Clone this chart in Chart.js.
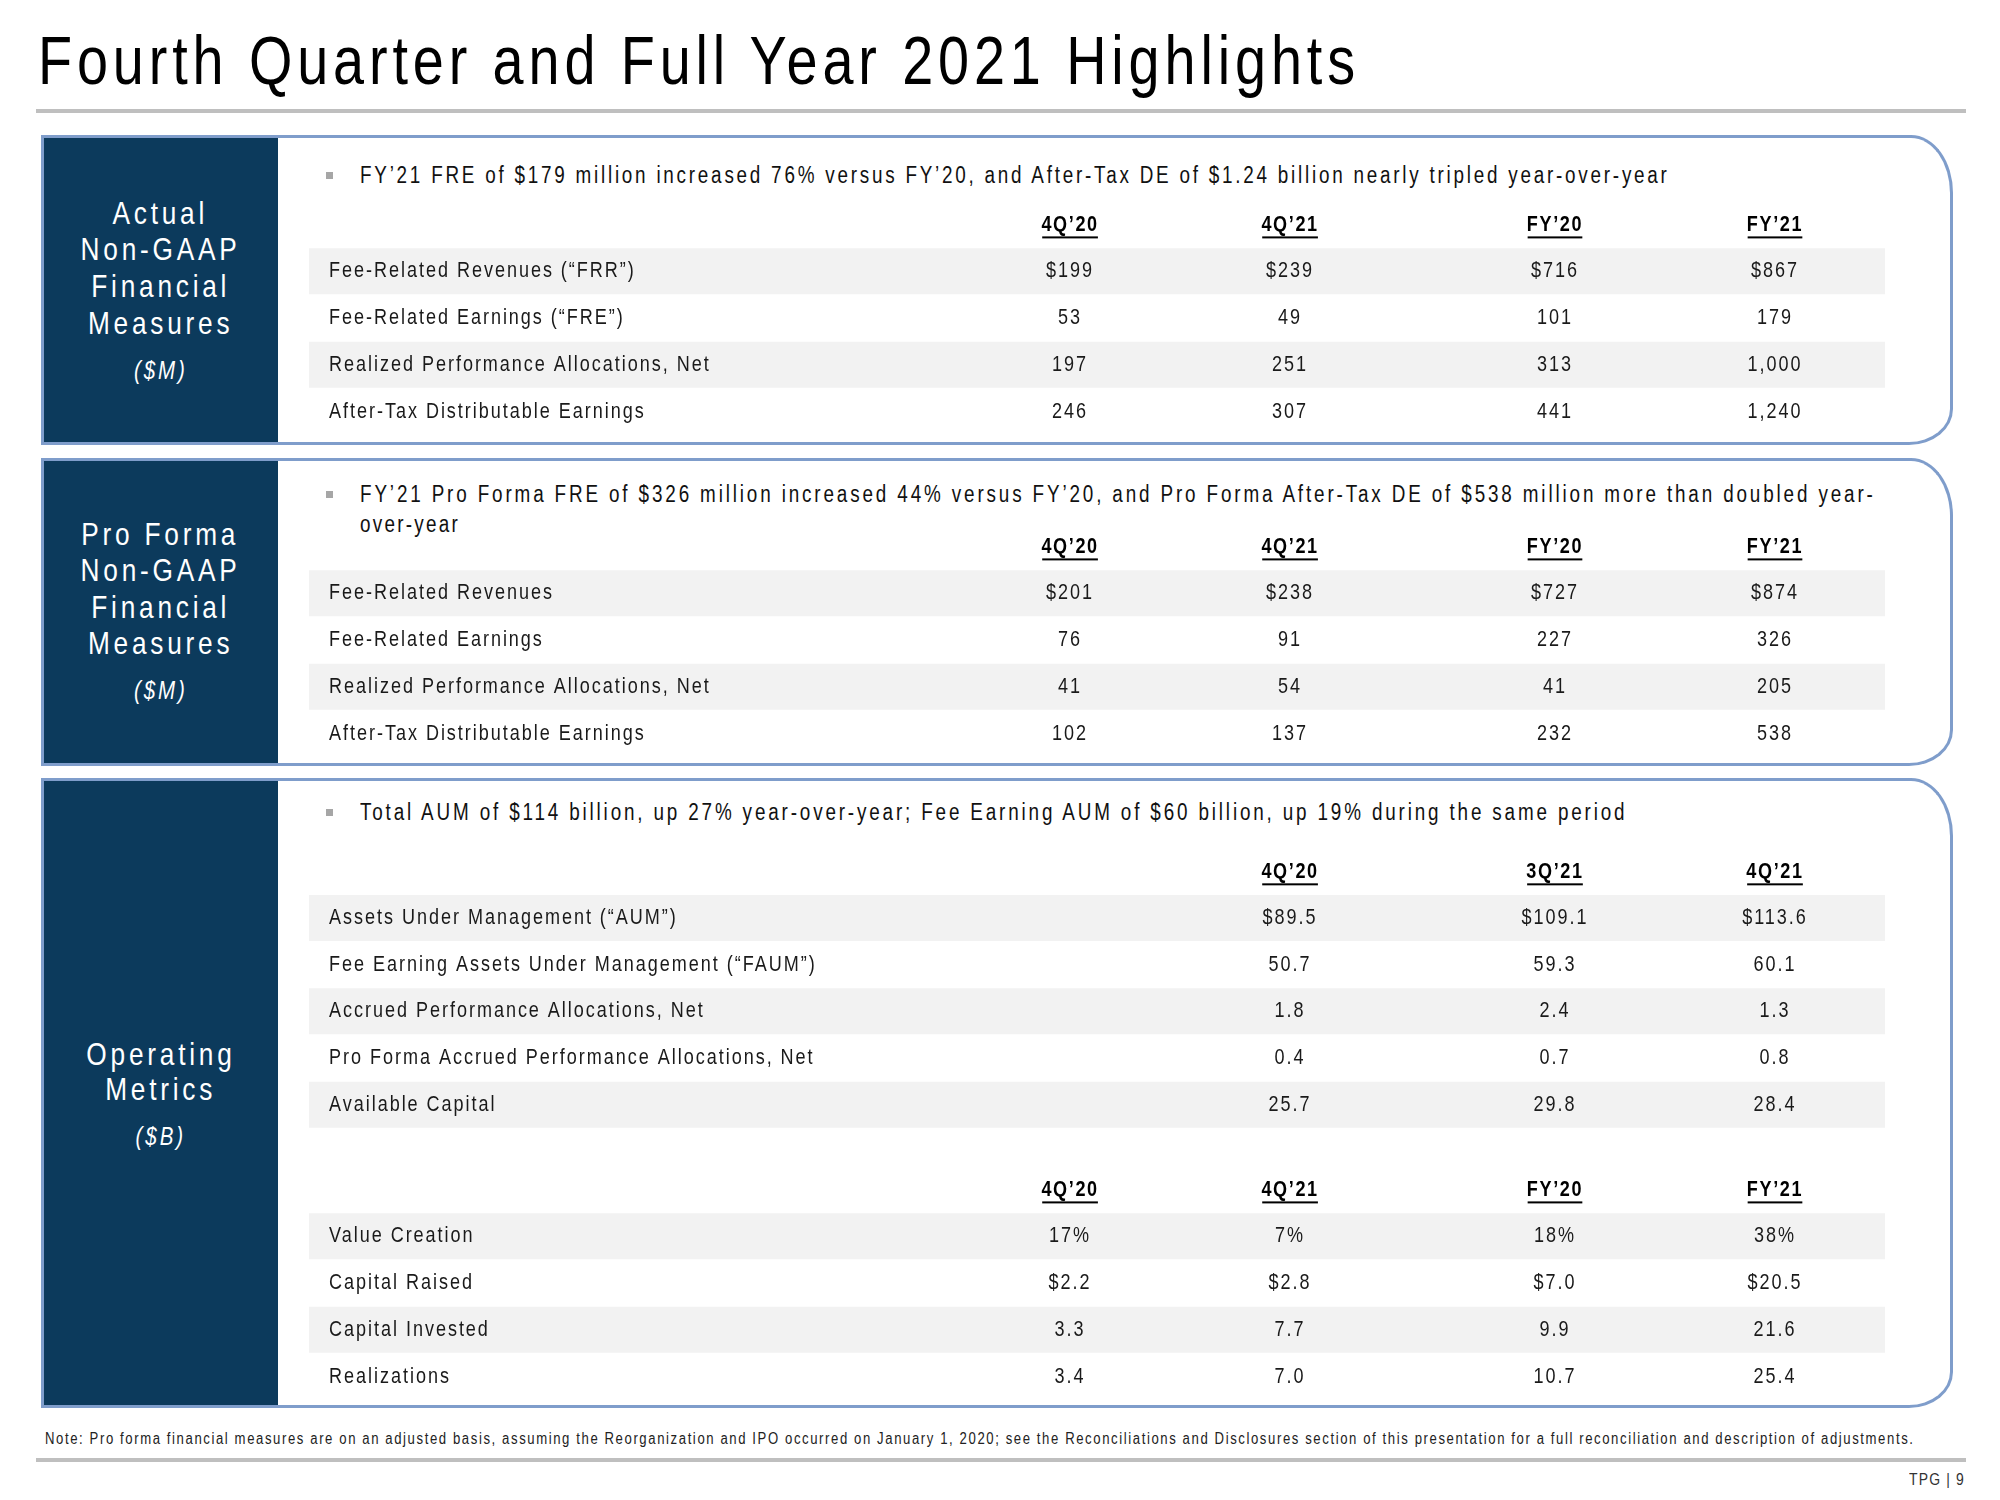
<!DOCTYPE html>
<html>
<head>
<meta charset="utf-8">
<script src="https://cdn.jsdelivr.net/npm/chart.js"></script>
<style>
  html, body { margin: 0; padding: 0; background: #fff; }
  #slide { position: relative; width: 2000px; height: 1500px; overflow: hidden;
    font-family: "Liberation Sans", Arial, sans-serif; color: #1a1a1a; }
  .abs { position: absolute; white-space: nowrap; }
  /* no narrow face is installed, so text is condensed by scaling */
  .cond { transform: scaleX(0.82); transform-origin: left center; }
  #title { left: 38px; top: 26px; font-size: 68px; line-height: 68px; color: #000; }
  .rule { position: absolute; left: 36px; width: 1930px; height: 4px; background: #bfbfbf; }
  .side { position: absolute; left: 41px; width: 240px; background: #0c3a5c; border: 3px solid #7f9dcb; box-sizing: border-box; }
  .box { position: absolute; left: 278px; width: 1675px; background: #fff; border: 3px solid #7f9dcb; border-left: none;
    box-sizing: border-box; border-top-right-radius: 42px 58px; border-bottom-right-radius: 44px 36px; }
  .sidetxt { position: absolute; left: 42px; width: 237px; text-align: center; color: #fff; font-size: 32px; line-height: 36px; }
  .sidetxt span { display: inline-block; transform: scaleX(0.82); transform-origin: center; letter-spacing: 4.6px; white-space: nowrap; }
  .sidetxt.unit { font-size: 25px; font-style: italic; }
  .sidetxt.unit span { letter-spacing: 3.6px; }
  .bullet { position: absolute; left: 326px; width: 7px; height: 7px; background: #a6a6a6; }
  .btext { font-size: 23px; line-height: 30px; color: #111; }
  canvas.tbl { position: absolute; left: 309px; }
  #note { left: 45px; top: 1429px; font-size: 16px; line-height: 20px; color: #222; }
  #page { left: 1909px; top: 1469px; font-size: 17px; line-height: 22px; color: #333; }
</style>
</head>
<body>
<div id="slide">
  <div id="title" class="abs cond">Fourth Quarter and Full Year 2021 Highlights</div>
  <div class="rule" style="top:109px"></div>

  <div class="side" style="top:135px;height:310px"></div>
  <div class="box" style="top:135px;height:310px"></div>
  <div class="side" style="top:458px;height:308px"></div>
  <div class="box" style="top:458px;height:308px"></div>
  <div class="side" style="top:778px;height:630px"></div>
  <div class="box" style="top:778px;height:630px"></div>

  <div class="sidetxt" style="top:195px"><span>Actual</span></div>
  <div class="sidetxt" style="top:231px"><span>Non-GAAP</span></div>
  <div class="sidetxt" style="top:268px"><span>Financial</span></div>
  <div class="sidetxt" style="top:305px"><span>Measures</span></div>
  <div class="sidetxt unit" style="top:352px"><span>($M)</span></div>

  <div class="sidetxt" style="top:516px"><span>Pro Forma</span></div>
  <div class="sidetxt" style="top:552px"><span>Non-GAAP</span></div>
  <div class="sidetxt" style="top:589px"><span>Financial</span></div>
  <div class="sidetxt" style="top:625px"><span>Measures</span></div>
  <div class="sidetxt unit" style="top:672px"><span>($M)</span></div>

  <div class="sidetxt" style="top:1036px"><span>Operating</span></div>
  <div class="sidetxt" style="top:1071px"><span>Metrics</span></div>
  <div class="sidetxt unit" style="top:1118px"><span>($B)</span></div>

  <div class="bullet" style="top:172px"></div>
  <div id="b1" class="abs btext cond" style="left:360px;top:160px">FY’21 FRE of $179 million increased 76% versus FY’20, and After-Tax DE of $1.24 billion nearly tripled year-over-year</div>
  <div class="bullet" style="top:491px"></div>
  <div id="b2" class="abs btext cond" style="left:360px;top:479px">FY’21 Pro Forma FRE of $326 million increased 44% versus FY’20, and Pro Forma After-Tax DE of $538 million more than doubled year-</div>
  <div id="b2b" class="abs btext cond" style="left:360px;top:509px">over-year</div>
  <div class="bullet" style="top:809px"></div>
  <div id="b3" class="abs btext cond" style="left:360px;top:797px">Total AUM of $114 billion, up 27% year-over-year; Fee Earning AUM of $60 billion, up 19% during the same period</div>

  <canvas id="tActual" class="tbl"></canvas>
  <canvas id="tProForma" class="tbl"></canvas>
  <canvas id="tAum" class="tbl"></canvas>
  <canvas id="tActivity" class="tbl"></canvas>

  <div id="note" class="abs cond">Note: Pro forma financial measures are on an adjusted basis, assuming the Reorganization and IPO occurred on January 1, 2020; see the Reconciliations and Disclosures section of this presentation for a full reconciliation and description of adjustments.</div>
  <div class="rule" style="top:1458px"></div>
  <div id="page" class="abs cond">TPG | 9</div>
</div>

<script>
// ---- data ----
const fourPeriods = ["4Q’20", "4Q’21", "FY’20", "FY’21"];
const aumPeriods = ["4Q’20", "3Q’21", "4Q’21"];

const actualLabels = [
  "Fee-Related Revenues (“FRR”)",
  "Fee-Related Earnings (“FRE”)",
  "Realized Performance Allocations, Net",
  "After-Tax Distributable Earnings"
];
const actual4Q20 = [199, 53, 197, 246];
const actual4Q21 = [239, 49, 251, 307];
const actualFY20 = [716, 101, 313, 441];
const actualFY21 = [867, 179, 1000, 1240];
const actualFormats = ["usd0", "num0", "num0", "num0"];

const proFormaLabels = [
  "Fee-Related Revenues",
  "Fee-Related Earnings",
  "Realized Performance Allocations, Net",
  "After-Tax Distributable Earnings"
];
const proForma4Q20 = [201, 76, 41, 102];
const proForma4Q21 = [238, 91, 54, 137];
const proFormaFY20 = [727, 227, 41, 232];
const proFormaFY21 = [874, 326, 205, 538];
const proFormaFormats = ["usd0", "num0", "num0", "num0"];

const aumLabels = [
  "Assets Under Management (“AUM”)",
  "Fee Earning Assets Under Management (“FAUM”)",
  "Accrued Performance Allocations, Net",
  "Pro Forma Accrued Performance Allocations, Net",
  "Available Capital"
];
const aum4Q20 = [89.5, 50.7, 1.8, 0.4, 25.7];
const aum3Q21 = [109.1, 59.3, 2.4, 0.7, 29.8];
const aum4Q21 = [113.6, 60.1, 1.3, 0.8, 28.4];
const aumFormats = ["usd1", "num1", "num1", "num1", "num1"];

const activityLabels = ["Value Creation", "Capital Raised", "Capital Invested", "Realizations"];
const activity4Q20 = [17, 2.2, 3.3, 3.4];
const activity4Q21 = [7, 2.8, 7.7, 7.0];
const activityFY20 = [18, 7.0, 9.9, 10.7];
const activityFY21 = [38, 20.5, 21.6, 25.4];
const activityFormats = ["pct", "usd1", "num1", "num1"];

// ---- layout ----
const FONT = '"Liberation Sans", Arial, sans-serif';
const SX = 0.82;          // horizontal squeeze to mimic a narrow face
const ROW_H = 46.7;
const TABLE_W = 1576;
// column anchors on a 0-100 axis: label column, then four value columns
const COL_X = [1.27, 48.29, 62.25, 79.06, 93.02];

function fmt(v, f) {
  if (f === "usd0") return "$" + v.toLocaleString("en-US");
  if (f === "num0") return v.toLocaleString("en-US");
  if (f === "usd1") return "$" + v.toFixed(1);
  if (f === "num1") return v.toFixed(1);
  if (f === "pct") return v + "%";
  return String(v);
}

const cellText = {
  id: "cellText",
  afterDatasetsDraw(chart) {
    const ctx = chart.ctx;
    chart.data.datasets.forEach((ds, i) => {
      if (!ds.cells) return;
      const meta = chart.getDatasetMeta(i);
      meta.data.forEach((pt, j) => {
        const txt = ds.cells[j];
        if (!txt) return;
        const head = j === 0;
        ctx.save();
        ctx.translate(pt.x, pt.y + (head ? 1 : 0));
        ctx.scale(SX, 1);
        ctx.font = (head ? "bold 22px " : "22px ") + FONT;
        ctx.letterSpacing = head ? "2px" : "2.4px";
        ctx.fillStyle = head ? "#000" : "#1a1a1a";
        ctx.textAlign = ds.align;
        ctx.textBaseline = "middle";
        ctx.fillText(txt, 0, 0);
        if (head) {
          const w = ctx.measureText(txt).width - 2;
          ctx.fillRect(-w / 2, 11, w, 2);
        }
        ctx.restore();
      });
    });
  }
};

function tableChart(id, top, labels, periods, columns, formats, firstCol) {
  const canvas = document.getElementById(id);
  const yLabels = [""].concat(labels);
  canvas.width = TABLE_W;
  canvas.height = Math.round(ROW_H * yLabels.length);
  canvas.style.top = top + "px";

  const datasets = [{
    type: "bar",
    data: yLabels.map((_, i) => (i % 2 === 1 ? [0, 100] : null)),
    backgroundColor: "#f2f2f2",
    barPercentage: 1,
    categoryPercentage: 0.985,
    order: 5
  }, {
    type: "line",
    indexAxis: "y",
    data: yLabels.map(() => COL_X[0]),
    cells: yLabels,
    align: "left",
    showLine: false,
    pointRadius: 0
  }];
  columns.forEach((col, c) => {
    datasets.push({
      type: "line",
      indexAxis: "y",
      data: yLabels.map(() => COL_X[firstCol + c]),
      cells: [periods[c]].concat(col.map((v, r) => fmt(v, formats[r]))),
      align: "center",
      showLine: false,
      pointRadius: 0
    });
  });

  new Chart(canvas, {
    type: "bar",
    data: { labels: yLabels, datasets },
    options: {
      indexAxis: "y",
      responsive: false,
      animation: false,
      events: [],
      layout: { padding: 0, autoPadding: false },
      plugins: { legend: { display: false }, tooltip: { enabled: false } },
      scales: {
        x: { type: "linear", min: 0, max: 100, display: false },
        y: { type: "category", offset: true, display: false }
      }
    },
    plugins: [cellText]
  });
}

tableChart("tActual", 201, actualLabels, fourPeriods,
  [actual4Q20, actual4Q21, actualFY20, actualFY21], actualFormats, 1);
tableChart("tProForma", 522.6, proFormaLabels, fourPeriods,
  [proForma4Q20, proForma4Q21, proFormaFY20, proFormaFY21], proFormaFormats, 1);
tableChart("tAum", 847.6, aumLabels, aumPeriods,
  [aum4Q20, aum3Q21, aum4Q21], aumFormats, 2);
tableChart("tActivity", 1165.6, activityLabels, fourPeriods,
  [activity4Q20, activity4Q21, activityFY20, activityFY21], activityFormats, 1);

// stretch text lines to the widths they have on the slide
function fitText(id, target) {
  const el = document.getElementById(id);
  el.style.letterSpacing = "0px";
  const w0 = el.getBoundingClientRect().width;
  el.style.letterSpacing = "10px";
  const w1 = el.getBoundingClientRect().width;
  el.style.letterSpacing = (10 * (target - w0) / (w1 - w0)).toFixed(2) + "px";
}
fitText("title", 1322);
fitText("b1", 1310);
fitText("b2", 1516);
fitText("b2b", 100);
fitText("b3", 1267);
fitText("note", 1870);
fitText("page", 56);
</script>
</body>
</html>
